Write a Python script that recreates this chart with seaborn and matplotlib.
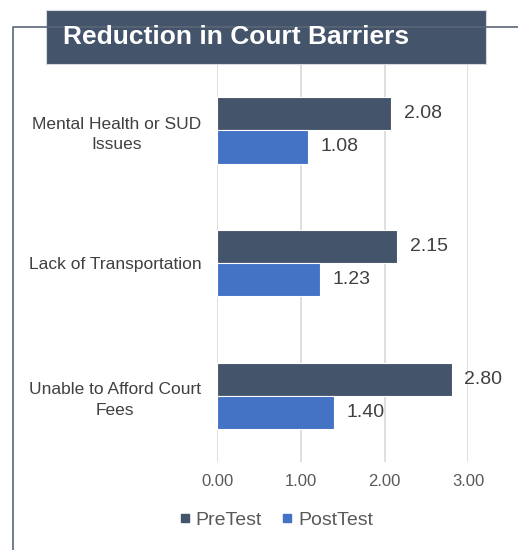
import matplotlib
matplotlib.use("Agg")
import matplotlib.pyplot as plt
from matplotlib.lines import Line2D
from matplotlib.patches import Rectangle
import seaborn as sns
import pandas as pd

# Survey results: average barrier score before and after the program
barriers = ["Mental Health or SUD\nIssues", "Lack of Transportation", "Unable to Afford Court\nFees"]
pretest = [2.08, 2.15, 2.80]
posttest = [1.08, 1.23, 1.40]
series = ["PreTest", "PostTest"]
x_ticks = [0.0, 1.0, 2.0, 3.0]
title = "Reduction in Court Barriers"

colors = {"PreTest": "#44546A", "PostTest": "#4472C4"}

df = pd.DataFrame({
    "Barrier": barriers * 2,
    "Score": pretest + posttest,
    "Test": [series[0]] * len(barriers) + [series[1]] * len(barriers),
})

sns.set_theme(style="white")
plt.rcParams["font.family"] = ["Liberation Sans", "DejaVu Sans"]

W, H = 518, 550
fig = plt.figure(figsize=(W / 100, H / 100), dpi=100)


def fx(px):
    return px / W


def fy(py):
    return 1 - py / H


ax = fig.add_axes([fx(217.3), fy(462), fx(468.3 - 217.3), (462 - 64) / H])

sns.barplot(data=df, y="Barrier", x="Score", hue="Test", order=barriers,
            hue_order=series, palette=colors, saturation=1, orient="h", width=0.5,
            edgecolor="white", linewidth=0.8, legend=False, ax=ax)

for cont in ax.containers:
    ax.bar_label(cont, fmt="%.2f", padding=9, fontsize=14, color="#404040")

ax.set_xlim(0, 3.0)
ax.set_ylim(2.5, -0.5)
ax.set_xticks(x_ticks)
ax.set_xticklabels([f"{v:.2f}" for v in x_ticks])
ax.set_xlabel("")
ax.set_ylabel("")
ax.grid(axis="x", color="#D9D9D9", linewidth=1.2)
ax.grid(axis="y", visible=False)
ax.set_axisbelow(True)
for s in ax.spines.values():
    s.set_visible(False)
ax.tick_params(axis="x", length=0, pad=9, labelsize=12, labelcolor="#595959")
ax.tick_params(axis="y", length=0, pad=11.5, labelsize=12.5, labelcolor="#404040")
for lbl in ax.get_yticklabels():
    lbl.set_multialignment("center")
    lbl.set_linespacing(1.45)

# Legend with small square markers
handles = [Line2D([], [], marker="s", linestyle="", markersize=5.5,
                  markerfacecolor=colors[s], markeredgecolor=colors[s]) for s in series]
fig.legend(handles, series, loc="center", bbox_to_anchor=(fx(276), fy(520)),
           ncol=2, frameon=False, fontsize=14, labelcolor="#595959",
           handlelength=0.6, handletextpad=0.25, columnspacing=1.0)

# Outer frame (left and top edges)
fig.add_artist(Line2D([fx(13), fx(13), fx(518)], [fy(552), fy(27), fy(27)],
                      color="#5B6677", linewidth=1.2))

# Title banner
fig.add_artist(Rectangle((fx(46), fy(64)), fx(486 - 46), (64 - 10) / H,
                         facecolor="#44546A", edgecolor="#D5DAE1", linewidth=0.8,
                         transform=fig.transFigure))
fig.text(fx(63), fy(37), title, color="white", fontsize=19, fontweight="bold",
         ha="left", va="center")

fig.savefig("out.png", dpi=100)
